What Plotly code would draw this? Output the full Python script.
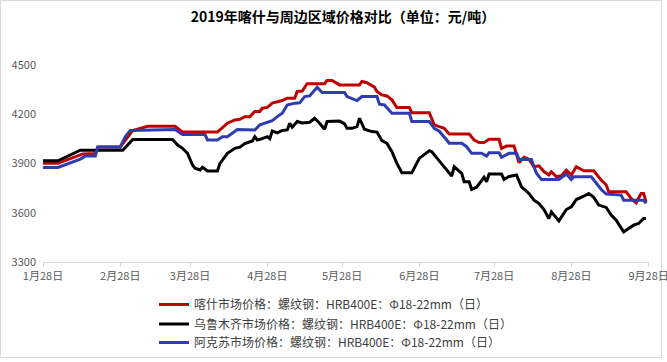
import plotly.graph_objects as go

# ---- data ----
kashgar_dates = ["2019-01-28","2019-02-03","2019-02-13","2019-02-18","2019-02-19","2019-02-28","2019-03-05","2019-03-11",
                 "2019-03-22","2019-03-25","2019-04-08","2019-04-10","2019-04-12","2019-04-15","2019-04-17","2019-04-19",
                 "2019-04-21","2019-04-23","2019-04-25","2019-04-26","2019-04-28","2019-04-30","2019-05-04","2019-05-06",
                 "2019-05-09","2019-05-10","2019-05-12","2019-05-14","2019-05-21","2019-05-22","2019-05-24","2019-05-27",
                 "2019-06-04","2019-06-05","2019-06-07","2019-06-10","2019-06-11","2019-06-13","2019-06-15","2019-06-17",
                 "2019-06-19","2019-06-24","2019-06-25","2019-07-02","2019-07-04","2019-07-06","2019-07-08","2019-07-10",
                 "2019-07-18","2019-07-20","2019-07-22","2019-07-24","2019-07-26","2019-07-30","2019-07-31","2019-08-02",
                 "2019-08-05","2019-08-07","2019-08-09","2019-08-11","2019-08-13","2019-08-15","2019-08-17","2019-08-19",
                 "2019-08-20","2019-08-22","2019-08-24","2019-08-26","2019-08-28","2019-08-30","2019-09-02","2019-09-06",
                 "2019-09-09","2019-09-11","2019-09-12","2019-09-19","2019-09-21","2019-09-23","2019-09-25","2019-09-26",
                 "2019-09-27"]
kashgar_values = [3900,3900,3957,3960,4000,4000,4100,4125,
                  4125,4090,4090,4120,4144,4164,4168,4184,
                  4184,4215,4215,4235,4240,4266,4282,4296,
                  4296,4337,4340,4384,4384,4404,4404,4377,
                  4377,4398,4390,4363,4337,4316,4310,4286,
                  4239,4239,4208,4208,4134,4123,4113,4079,
                  4079,4042,4026,4026,4046,4046,3991,4005,
                  4005,3904,3937,3925,3879,3885,3850,3829,
                  3849,3818,3825,3859,3829,3879,3855,3855,
                  3798,3768,3727,3727,3687,3660,3717,3717,
                  3666]

urumqi_dates = ["2019-01-28","2019-02-03","2019-02-12","2019-03-01","2019-03-05","2019-03-21","2019-03-23","2019-03-25",
                "2019-03-27","2019-03-29","2019-03-30","2019-04-01","2019-04-02","2019-04-04","2019-04-08","2019-04-09",
                "2019-04-10","2019-04-12","2019-04-15","2019-04-17","2019-04-19","2019-04-22","2019-04-23","2019-04-24",
                "2019-04-26","2019-04-28","2019-04-29","2019-04-30","2019-05-02","2019-05-04","2019-05-06","2019-05-07",
                "2019-05-08","2019-05-10","2019-05-12","2019-05-15","2019-05-17","2019-05-19","2019-05-21","2019-05-22",
                "2019-05-27","2019-05-29","2019-05-30","2019-06-01","2019-06-03","2019-06-04","2019-06-06","2019-06-09",
                "2019-06-11","2019-06-13","2019-06-15","2019-06-17","2019-06-19","2019-06-21","2019-06-25","2019-06-28",
                "2019-07-02","2019-07-03","2019-07-06","2019-07-09","2019-07-11","2019-07-12","2019-07-15","2019-07-16",
                "2019-07-18","2019-07-19","2019-07-21","2019-07-24","2019-07-25","2019-07-26","2019-07-31","2019-08-01",
                "2019-08-03","2019-08-06","2019-08-08","2019-08-11","2019-08-13","2019-08-15","2019-08-17","2019-08-19",
                "2019-08-20","2019-08-23","2019-08-26","2019-08-28","2019-08-30","2019-09-02","2019-09-04","2019-09-06",
                "2019-09-08","2019-09-11","2019-09-13","2019-09-15","2019-09-18","2019-09-20","2019-09-22","2019-09-24",
                "2019-09-26","2019-09-27"]
urumqi_values = [3915,3915,3980,3980,4045,4045,4011,3991,
                 3961,3890,3870,3860,3876,3853,3853,3900,
                 3920,3961,3991,3998,4020,4036,4062,4042,
                 4050,4062,4050,4097,4085,4100,4103,4144,
                 4120,4154,4145,4150,4174,4144,4107,4154,
                 4157,4140,4113,4113,4123,4174,4107,4093,
                 4090,4038,4022,3971,3900,3843,3843,3930,
                 3977,3970,3915,3859,3823,3879,3839,3788,
                 3788,3741,3755,3815,3788,3835,3835,3802,
                 3820,3829,3757,3717,3676,3656,3619,3565,
                 3605,3550,3619,3635,3680,3700,3717,3693,
                 3646,3632,3585,3554,3483,3504,3524,3534,
                 3565,3565]

aksu_dates = ["2019-01-28","2019-02-03","2019-02-12","2019-02-14","2019-02-18","2019-02-19","2019-02-28","2019-03-02",
              "2019-03-04","2019-03-22","2019-03-25","2019-04-03","2019-04-04","2019-04-08","2019-04-10","2019-04-12",
              "2019-04-16","2019-04-23","2019-04-25","2019-04-27","2019-04-30","2019-05-02","2019-05-04","2019-05-06",
              "2019-05-09","2019-05-11","2019-05-13","2019-05-15","2019-05-18","2019-05-20","2019-05-29","2019-05-30",
              "2019-06-03","2019-06-05","2019-06-11","2019-06-12","2019-06-14","2019-06-17","2019-06-24","2019-06-25",
              "2019-07-02","2019-07-04","2019-07-05","2019-07-06","2019-07-09","2019-07-10","2019-07-15","2019-07-17",
              "2019-07-19","2019-07-23","2019-07-25","2019-07-26","2019-07-30","2019-07-31","2019-08-03","2019-08-06",
              "2019-08-07","2019-08-12","2019-08-13","2019-08-14","2019-08-16","2019-08-23","2019-08-26","2019-08-28",
              "2019-08-29","2019-09-05","2019-09-09","2019-09-11","2019-09-17","2019-09-18","2019-09-26","2019-09-27"]
aksu_values = [3875,3875,3926,3944,3944,4000,4000,4062,
               4100,4105,4075,4075,4042,4042,4062,4062,
               4105,4103,4134,4144,4160,4184,4205,4255,
               4266,4268,4306,4310,4363,4330,4330,4306,
               4282,4306,4306,4260,4255,4205,4205,4154,
               4154,4113,4105,4095,4042,4022,4022,4001,
               3961,3961,3944,3964,3964,3937,3961,3961,
               3924,3924,3879,3840,3802,3802,3835,3802,
               3818,3818,3741,3713,3707,3676,3676,3656]

series_names = ["喀什市场价格：螺纹钢：HRB400E：Φ18-22mm（日）",
                "乌鲁木齐市场价格：螺纹钢：HRB400E：Φ18-22mm（日）",
                "阿克苏市场价格：螺纹钢：HRB400E：Φ18-22mm（日）"]
series_colors = ["#C00000", "#000000", "#2E3CB1"]

x_tick_dates = ["2019-01-28","2019-02-28","2019-03-28","2019-04-28","2019-05-28",
                "2019-06-28","2019-07-28","2019-08-28","2019-09-28"]
x_tick_labels = ["1月28日","2月28日","3月28日","4月28日","5月28日",
                 "6月28日","7月28日","8月28日","9月28日"]
y_ticks = [3300, 3600, 3900, 4200, 4500]

title_text = "2019年喀什与周边区域价格对比（单位：元/吨）"

font_cjk = "Noto Sans CJK SC"

# plot-area geometry (pixels)
L, R, T, B = 43, 18, 40, 100
W, H = 667, 362
pw, ph = W - L - R, H - T - B

def px_x(p):
    return (p - L) / pw

def px_y(p):
    return (H - B - p) / ph

legend_ids = ["legend", "legend2", "legend3"]
legend_tops = [290, 309.5, 328]

fig = go.Figure()
for dates, vals, name, color, lg in zip([kashgar_dates, urumqi_dates, aksu_dates],
                                        [kashgar_values, urumqi_values, aksu_values],
                                        series_names, series_colors, legend_ids):
    fig.add_trace(go.Scatter(x=dates, y=vals, name=name, mode="lines", legend=lg,
                             line=dict(color=color, width=3)))

legend_layout = {}
for lg, top in zip(legend_ids, legend_tops):
    legend_layout[lg] = dict(x=px_x(154), y=px_y(top), xanchor="left", yanchor="top",
                             orientation="v", itemwidth=30,
                             font=dict(size=12, color="#404040", family=font_cjk),
                             bgcolor="rgba(0,0,0,0)")

fig.update_layout(
    width=W, height=H,
    margin=dict(l=L, r=R, t=T, b=B, autoexpand=False),
    paper_bgcolor="white", plot_bgcolor="white",
    font=dict(family=font_cjk, color="#595959", size=11),
    title=dict(text="<b>" + title_text + "</b>", x=343 / W, xref="container", xanchor="center",
               y=1 - 17 / H, yanchor="middle",
               font=dict(family=font_cjk, size=14, color="#000000")),
    xaxis=dict(type="date", range=["2019-01-28", "2019-09-28 04:00"],
               tickvals=x_tick_dates, ticktext=x_tick_labels,
               ticklabeloverflow="allow",
               showgrid=False, zeroline=False,
               showline=True, linecolor="#D9D9D9", linewidth=1,
               ticks="outside", tickcolor="#D9D9D9", ticklen=4,
               tickfont=dict(size=11, color="#595959", family=font_cjk)),
    yaxis=dict(range=[3300, 4650], tickvals=y_ticks,
               showgrid=False, zeroline=False, showline=False,
               ticks="", ticklabelstandoff=6,
               tickfont=dict(size=11, color="#595959", family=font_cjk)),
    showlegend=True,
    shapes=[dict(type="rect", xref="paper", yref="paper",
                 x0=px_x(0.5), x1=px_x(661.5), y0=px_y(357.5), y1=px_y(0.5),
                 line=dict(color="#D9D9D9", width=1), fillcolor="rgba(0,0,0,0)",
                 layer="below")],
    **legend_layout,
)

fig.write_html("out.html",
               config={"displayModeBar": False},
               post_script="document.body.style.margin='0px';document.body.style.overflow='hidden';")
